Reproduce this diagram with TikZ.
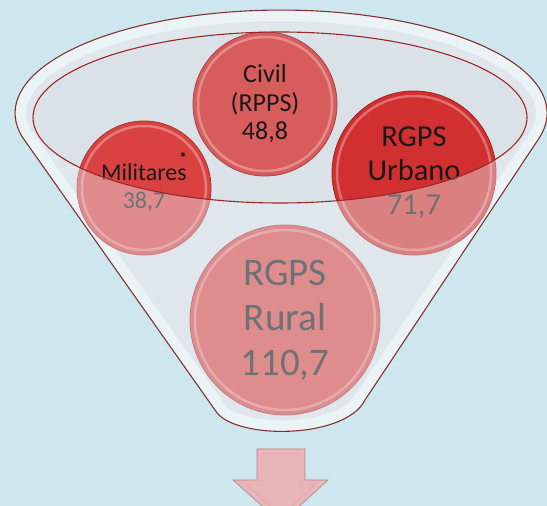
\documentclass[tikz,border=0pt]{standalone}
\usepackage{fontspec}
\setmainfont{Carlito}
\usepackage{tikz}
\definecolor{sky}{RGB}{206,230,238}
\definecolor{funnelbody}{RGB}{219,226,231}
\definecolor{funnelrim}{RGB}{240,247,250}
\definecolor{rimline}{RGB}{130,50,50}
\definecolor{ringline}{RGB}{155,40,40}
\definecolor{civilred}{RGB}{217,92,92}
\definecolor{milred}{RGB}{218,66,66}
\definecolor{urbred}{RGB}{210,48,48}
\definecolor{ruralred}{RGB}{215,70,70}
\definecolor{frontwall}{RGB}{232,239,243}
\definecolor{arrowpink}{RGB}{233,181,184}
\def \funnel {(23,368) arc[start angle=194, end angle=-14, x radius=266, y radius=103] -- (365,106) .. controls (345,66) and (232,66) .. (215,96) -- cycle}
\def \ring {(280,388.5) ellipse[x radius=247, y radius=85.5]}

\begin{document}
\begin{tikzpicture}[x=1pt,y=1pt]
\tikzstyle{bubble}=[circle,inner sep=0pt,line width=0.8pt,text=black!90,align=center];
\tikzstyle{glint}=[white,opacity=0.3,line width=2.5pt];
\tikzstyle{front}=[fill=frontwall,fill opacity=0.42,even odd rule];
\tikzstyle{downarrow}=[fill=arrowpink,draw=arrowpink!75!black,line width=0.6pt];
\useasboundingbox (0,0) rectangle (547,506);
\clip (0,0) rectangle (547,506);
\fill[sky] (0,0) rectangle (547,506);
\fill[funnelbody] \funnel;
\begin{scope}
\clip \funnel;
\draw[funnelrim,line width=22pt] \funnel;
\end{scope}
\node (civil) [bubble,fill=civilred,draw=civilred!75!black,minimum size=144pt,font=\fontsize{26}{28.5}\selectfont] at (265,402) {Civil\\(RPPS)\\48,8};
\node (mil) [bubble,fill=milred,draw=milred!75!black,minimum size=134pt,font=\fontsize{24}{28}\selectfont] at (144,318) {Militares\\38,7};
\node (urb) [bubble,fill=urbred,draw=urbred!75!black,minimum size=164pt,font=\fontsize{30.5}{34}\selectfont] at (414,333) {RGPS\\Urbano\\71,7};
\node (rural) [bubble,fill=ruralred,draw=ruralred!75!black,minimum size=190pt,font=\fontsize{39}{45}\selectfont] at (285,186) {RGPS\\Rural\\110,7};
\foreach \n/\r in {civil/72,mil/67,urb/82,rural/95}
  \draw[glint] (\n.center) circle[radius=\r-5];
\node (star) [inner sep=0pt] at (183,348) {\fontsize{17}{17}\selectfont *};
\fill[front] \funnel \ring;
\draw[ringline,line width=1.1pt] \ring;
\draw[rimline,line width=1.1pt] \funnel;
\draw[downarrow] (257,57) -- (305,57) -- (305,26) -- (328,26) -- (281,-17) -- (233,26) -- (257,26) -- cycle;
\draw[arrowpink!80!black,opacity=0.5] (262,52) -- (300,52) -- (300,21) -- (315,21) -- (281,-10) -- (247,21) -- (262,21) -- cycle;
\end{tikzpicture}
\end{document}
